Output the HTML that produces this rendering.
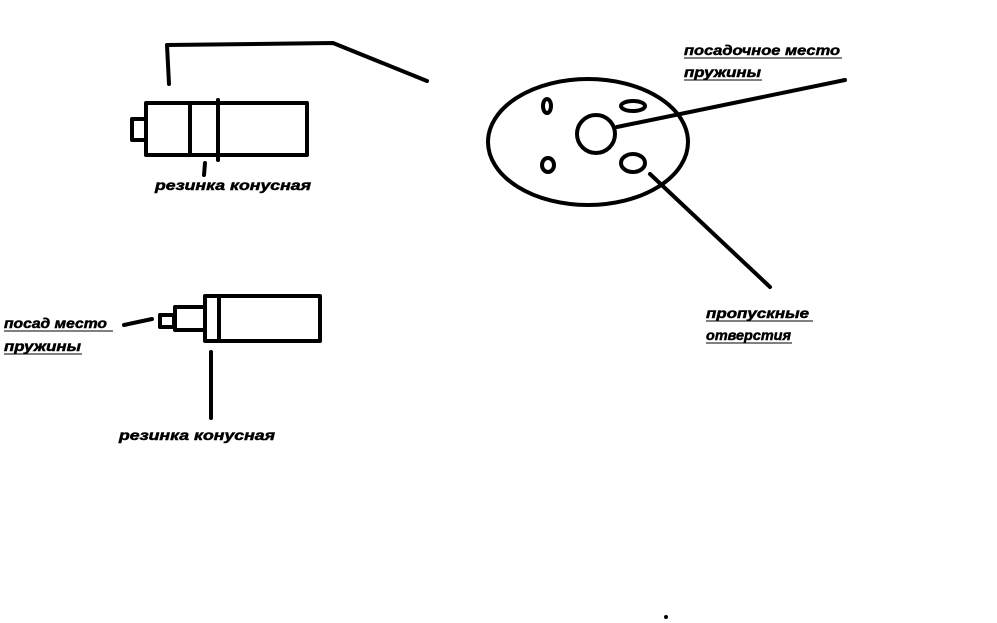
<!DOCTYPE html>
<html><head><meta charset="utf-8"><style>
html,body{margin:0;padding:0;background:#fff;}
svg{display:block}
text{font-family:"Liberation Sans","DejaVu Sans",sans-serif;font-weight:bold;font-style:italic;font-size:14px;fill:#000;stroke:#000;stroke-width:0.5}
</style></head><body>
<svg width="997" height="623" viewBox="0 0 997 623" xmlns="http://www.w3.org/2000/svg">
<g fill="none" stroke="#000" stroke-width="4" stroke-linecap="round" stroke-linejoin="round">
<polyline points="169,84 167,45 333,43 427,81"/>
<rect x="146" y="103" width="161" height="52"/>
<rect x="132" y="119" width="14" height="21"/>
<line x1="190" y1="103" x2="190" y2="155"/>
<line x1="218" y1="100" x2="218" y2="160"/>
<line x1="205" y1="163" x2="204" y2="175"/>
<rect x="205" y="296" width="115" height="45"/>
<line x1="219" y1="296" x2="219" y2="341"/>
<rect x="175" y="307" width="30" height="23"/>
<rect x="160" y="315" width="14" height="12"/>
<line x1="124" y1="325" x2="152" y2="319"/>
<line x1="211" y1="352" x2="211" y2="418"/>
<ellipse cx="588" cy="142" rx="100" ry="63"/>
<circle cx="596" cy="134" r="19"/>
<ellipse cx="547" cy="106" rx="4" ry="7"/>
<ellipse cx="633" cy="106" rx="12" ry="5"/>
<ellipse cx="548" cy="165" rx="6" ry="7"/>
<ellipse cx="633" cy="163" rx="12" ry="9"/>
<line x1="617" y1="127" x2="845" y2="80"/>
<line x1="650" y1="174" x2="770" y2="287"/>
</g>
<circle cx="666" cy="617" r="2" fill="#000"/>
<text x="155" y="190" textLength="156" lengthAdjust="spacingAndGlyphs">резинка конусная</text>
<text x="119" y="440" textLength="156" lengthAdjust="spacingAndGlyphs">резинка конусная</text>
<text x="4" y="328" textLength="103" lengthAdjust="spacingAndGlyphs">посад место</text>
<line x1="4" y1="331" x2="113" y2="331" stroke="#000" stroke-width="1"/>
<text x="4" y="351" textLength="77" lengthAdjust="spacingAndGlyphs">пружины</text>
<line x1="4" y1="354" x2="82" y2="354" stroke="#000" stroke-width="1"/>
<text x="684" y="55" textLength="156" lengthAdjust="spacingAndGlyphs">посадочное место</text>
<line x1="684" y1="58" x2="842" y2="58" stroke="#000" stroke-width="1"/>
<text x="684" y="77" textLength="77" lengthAdjust="spacingAndGlyphs">пружины</text>
<line x1="684" y1="80" x2="762" y2="80" stroke="#000" stroke-width="1"/>
<text x="706" y="318" textLength="103" lengthAdjust="spacingAndGlyphs">пропускные</text>
<line x1="706" y1="321" x2="813" y2="321" stroke="#000" stroke-width="1"/>
<text x="706" y="340" textLength="85" lengthAdjust="spacingAndGlyphs">отверстия</text>
<line x1="706" y1="343" x2="792" y2="343" stroke="#000" stroke-width="1"/>
</svg>
</body></html>
